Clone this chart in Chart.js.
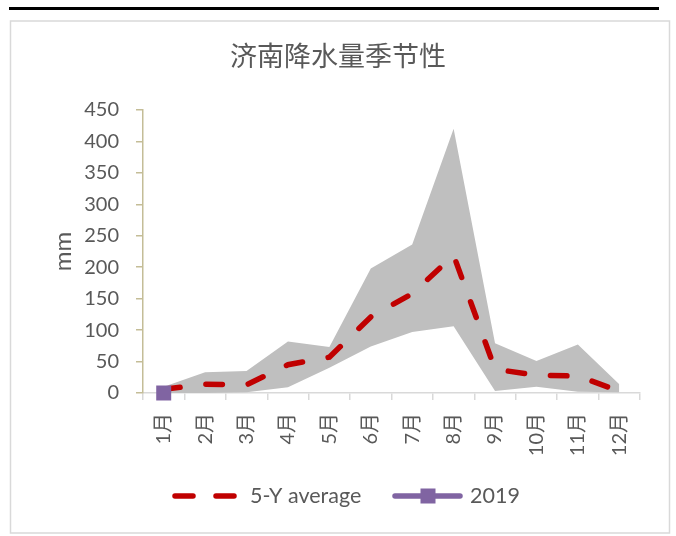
<!DOCTYPE html>
<html>
<head>
<meta charset="utf-8">
<script src="https://cdn.jsdelivr.net/npm/chart.js@4/dist/chart.umd.min.js"></script>
<style>
html,body{margin:0;padding:0;background:#fff;}
#wrap{width:676px;height:536px;}
</style>
</head>
<body>
<div id="wrap"><canvas id="c" width="676" height="536"></canvas></div>
<script>
const months = ['1月','2月','3月','4月','5月','6月','7月','8月','9月','10月','11月','12月'];
const rangeUpper = [10, 33, 35, 82, 73, 198, 236, 420, 79, 51, 77, 14];
const rangeLower = [0, 0, 1, 9, 40, 74, 97, 106, 3, 10, 2, 1];
const avg5Y = [6, 14, 13, 45, 57, 121, 158, 219, 38, 28, 27, 3];
const y2019 = [0, null, null, null, null, null, null, null, null, null, null, null];
const yTicks = [0, 50, 100, 150, 200, 250, 300, 350, 400, 450];

const TEXT = '#595959';
const FONT = 'Lato, "Noto Sans CJK SC", sans-serif';

const framePlugin = {
  id: 'frame',
  beforeDraw(chart) {
    const ctx = chart.ctx;
    ctx.save();
    ctx.fillStyle = '#fff';
    ctx.fillRect(0, 0, chart.width, chart.height);
    ctx.strokeStyle = '#000';
    ctx.lineWidth = 3;
    ctx.beginPath();
    ctx.moveTo(9, 8.5);
    ctx.lineTo(659, 8.5);
    ctx.stroke();
    ctx.strokeStyle = '#D9D9D9';
    ctx.lineWidth = 1.5;
    ctx.strokeRect(10.5, 21, 659, 512);
    ctx.restore();
  }
};

const legendPlugin = {
  id: 'customLegend',
  afterDraw(chart) {
    const ctx = chart.ctx;
    const y = 496;
    ctx.save();
    ctx.lineCap = 'round';
    ctx.strokeStyle = '#C00000';
    ctx.lineWidth = 5.5;
    ctx.beginPath();
    ctx.moveTo(175, y); ctx.lineTo(193, y);
    ctx.moveTo(216, y); ctx.lineTo(234, y);
    ctx.stroke();
    ctx.strokeStyle = '#8064A2';
    ctx.beginPath();
    ctx.moveTo(395, y); ctx.lineTo(460, y);
    ctx.stroke();
    ctx.fillStyle = '#8064A2';
    ctx.fillRect(420.5, y - 7.5, 15, 15);
    ctx.fillStyle = TEXT;
    ctx.font = '21.5px ' + FONT;
    ctx.textBaseline = 'middle';
    ctx.textAlign = 'left';
    ctx.fillText(chart.data.datasets[1].label, 250, y);
    ctx.fillText(chart.data.datasets[0].label, 470, y);
    ctx.restore();
  }
};

new Chart(document.getElementById('c'), {
  type: 'line',
  data: {
    labels: months,
    datasets: [
      {
        label: '2019',
        data: y2019,
        borderColor: '#8064A2',
        backgroundColor: '#8064A2',
        borderWidth: 5,
        pointStyle: 'rect',
        pointRadius: 10.6,
        pointBorderWidth: 0,
        fill: false,
        clip: false
      },
      {
        label: '5-Y average',
        data: avg5Y,
        borderColor: '#C00000',
        borderWidth: 5.5,
        borderDash: [16.5, 26],
        borderCapStyle: 'round',
        pointRadius: 0,
        fill: false,
        tension: 0,
        clip: false
      },
      {
        label: 'max',
        data: rangeUpper,
        borderWidth: 0,
        borderColor: 'rgba(0,0,0,0)',
        backgroundColor: '#BFBFBF',
        pointRadius: 0,
        fill: '+1',
        tension: 0
      },
      {
        label: 'min',
        data: rangeLower,
        borderWidth: 0,
        borderColor: 'rgba(0,0,0,0)',
        pointRadius: 0,
        fill: false,
        tension: 0
      }
    ]
  },
  options: {
    responsive: false,
    animation: false,
    devicePixelRatio: 1,
    layout: { padding: { left: 36, right: 36, top: 0, bottom: 0 } },
    plugins: {
      legend: { display: false },
      tooltip: { enabled: false },
      title: {
        display: true,
        text: '济南降水量季节性',
        color: TEXT,
        font: { family: '"Noto Sans CJK SC", sans-serif', size: 27, weight: 'normal', lineHeight: 1.2 },
        padding: { top: 40, bottom: 37.6 }
      }
    },
    scales: {
      x: {
        offset: true,
        grid: { offset: true, drawOnChartArea: false, drawTicks: true, tickLength: 7, color: '#D9D9D9', lineWidth: 1.5 },
        border: { color: '#D9D9D9', width: 1.5 },
        ticks: { minRotation: 90, maxRotation: 90, padding: 13, color: TEXT, font: { family: FONT, size: 20 }, autoSkip: false },
        afterFit(s) { s.height = 143; }
      },
      y: {
        min: 0,
        max: 450,
        afterBuildTicks(s) { s.ticks = yTicks.map(v => ({ value: v })); },
        grid: { drawOnChartArea: false, drawTicks: true, tickLength: 7, color: '#C4BD97', lineWidth: 1.5 },
        border: { color: '#C4BD97', width: 1.5 },
        ticks: { padding: 17, color: TEXT, font: { family: FONT, size: 20 } },
        title: { display: true, text: 'mm', color: TEXT, font: { family: FONT, size: 24, lineHeight: 1.2 }, padding: { top: 13, bottom: 0 } },
        afterFit(s) { s.width = 107; }
      }
    }
  },
  plugins: [framePlugin, legendPlugin]
});
</script>
</body>
</html>
